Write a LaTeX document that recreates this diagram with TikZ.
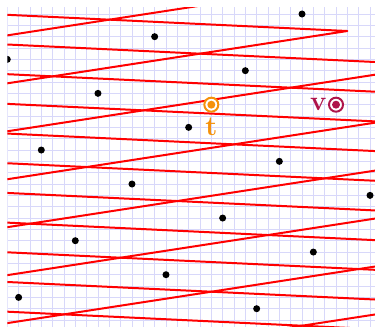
\documentclass[tikz,border=0pt]{standalone}
\usetikzlibrary{positioning}
\definecolor{gridcol}{RGB}{216,216,250}
\definecolor{tcol}{RGB}{245,145,10}
\definecolor{vcol}{RGB}{175,20,75}

\begin{document}
\begin{tikzpicture}[x=0.25cm,y=0.25cm,
  gridline/.style={draw=gridcol,line width=0.5pt},
  redline/.style={draw=red,line width=1.25pt,line join=round},
  latdot/.style={fill=black},
  tmark/.style={circle,draw=#1,fill=white,line width=1.25pt,minimum size=8.8pt,inner sep=0pt,
    path picture={\fill[#1] (path picture bounding box.center) circle (2.5pt);}},
  lbl/.style={text=#1,font=\LARGE,inner sep=0pt}]
\useasboundingbox (-0.644,-27.53) rectangle (32.44,1.235);
\begin{scope}
\clip (0,-27.53) rectangle (32.44,0.59);
\draw[gridline,step=0.25cm] (0,-28) grid (33,1);
\begin{scope}[shift={(16,-10)},x={(2cm,-0.75cm)},y={(-1.25cm,-1.25cm)}]
\draw[redline] (-4.5,3) -- (0.5,-2) -- (-7.5,2);
\foreach \f in {-2.5,-1.5,...,6.5}
  \draw[redline] ({\f+16},-8) -- ({\f-16},8);
\foreach \g in {-2.5,-0.5,0.5,1.5,2.5,3.5,4.5}
  \draw[redline] ({\g+8},-8) -- ({\g-8},8);
\foreach \i in {-4,...,5}
  \foreach \j in {-4,...,5}
    \fill[latdot] (\i,\j) circle (2.2pt);
\end{scope}
\end{scope}
\draw(18,-8) node[tmark=tcol] (t) {};
\draw(18,-9.97) node[lbl=tcol] (tl) {$\mathbf{t}$};
\draw(29,-8) node[tmark=vcol] (v) {};
\draw(27.45,-8) node[lbl=vcol] (vl) {$\mathbf{v}$};
\end{tikzpicture}
\end{document}
